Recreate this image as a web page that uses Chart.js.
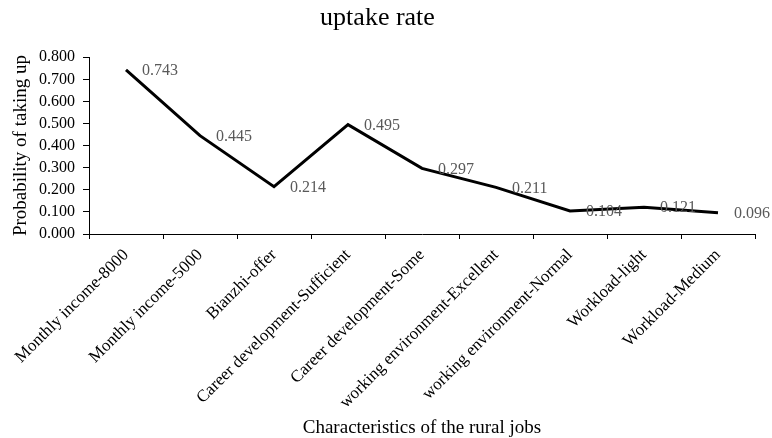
<!DOCTYPE html>
<html>
<head>
<meta charset="utf-8">
<script src="https://cdn.jsdelivr.net/npm/chart.js@4.4.0/dist/chart.umd.min.js"></script>
<style>
  html, body { margin: 0; padding: 0; background: #fff; }
  #wrap { width: 772px; height: 438px; }
</style>
</head>
<body>
<div id="wrap"><canvas id="c" width="772" height="438"></canvas></div>
<script>
const categories = [
  'Monthly income-8000',
  'Monthly income-5000',
  'Bianzhi-offer',
  'Career development-Sufficient',
  'Career development-Some',
  'working environment-Excellent',
  'working environment-Normal',
  'Workload-light',
  'Workload-Medium'
];
const uptakeRate = [0.743, 0.445, 0.214, 0.495, 0.297, 0.211, 0.104, 0.121, 0.096];
const yTicks = [0, 0.1, 0.2, 0.3, 0.4, 0.5, 0.6, 0.7, 0.8];

const FONT = '"Liberation Serif", "Times New Roman", serif';

// Value labels drawn to the right of each point
const valueLabels = {
  id: 'valueLabels',
  afterDatasetsDraw(chart) {
    const ctx = chart.ctx;
    const meta = chart.getDatasetMeta(0);
    ctx.save();
    ctx.font = '16px ' + FONT;
    ctx.fillStyle = '#595959';
    ctx.textAlign = 'left';
    ctx.textBaseline = 'middle';
    meta.data.forEach((pt, i) => {
      ctx.fillText(uptakeRate[i].toFixed(3), pt.x + 16, pt.y + 1);
    });
    ctx.restore();
  }
};

new Chart(document.getElementById('c'), {
  type: 'line',
  data: {
    labels: categories,
    datasets: [{
      data: uptakeRate,
      borderColor: '#000',
      borderWidth: 3,
      pointRadius: 0,
      tension: 0,
      fill: false
    }]
  },
  options: {
    responsive: false,
    animation: false,
    layout: { padding: { left: 0, right: 17, top: 0, bottom: 0 } },
    plugins: {
      legend: { display: false },
      tooltip: { enabled: false },
      title: {
        display: true,
        text: 'uptake rate',
        color: '#000',
        font: { family: FONT, size: 26, weight: 'normal' },
        padding: { top: 3, bottom: 23 }
      }
    },
    scales: {
      x: {
        type: 'category',
        offset: true,
        border: { display: true, color: '#000', width: 1 },
        grid: {
          offset: true,
          drawOnChartArea: false,
          drawTicks: true,
          tickLength: 5,
          color: '#000'
        },
        ticks: {
          color: '#000',
          font: { family: FONT, size: 17 },
          maxRotation: 45,
          minRotation: 45,
          autoSkip: false,
          padding: 6
        },
        title: {
          display: true,
          text: 'Characteristics of the rural jobs',
          color: '#000',
          font: { family: FONT, size: 19, lineHeight: 1 },
          padding: { top: 0, bottom: 0 }
        },
        afterFit(scale) { scale.height = 204; }
      },
      y: {
        min: 0,
        max: 0.8,
        border: { display: true, color: '#000', width: 1 },
        grid: {
          drawOnChartArea: false,
          drawTicks: true,
          tickLength: 6,
          color: '#000'
        },
        afterBuildTicks(scale) {
          scale.ticks = yTicks.map(v => ({ value: v }));
        },
        ticks: {
          color: '#000',
          font: { family: FONT, size: 16 },
          padding: 8,
          autoSkip: false,
          callback: v => Number(v).toFixed(3)
        },
        title: {
          display: true,
          text: 'Probability of taking up',
          color: '#000',
          font: { family: FONT, size: 19 },
          padding: { top: 10, bottom: 0 }
        },
        afterFit(scale) { scale.width = 89; }
      }
    }
  },
  plugins: [valueLabels]
});
</script>
</body>
</html>
